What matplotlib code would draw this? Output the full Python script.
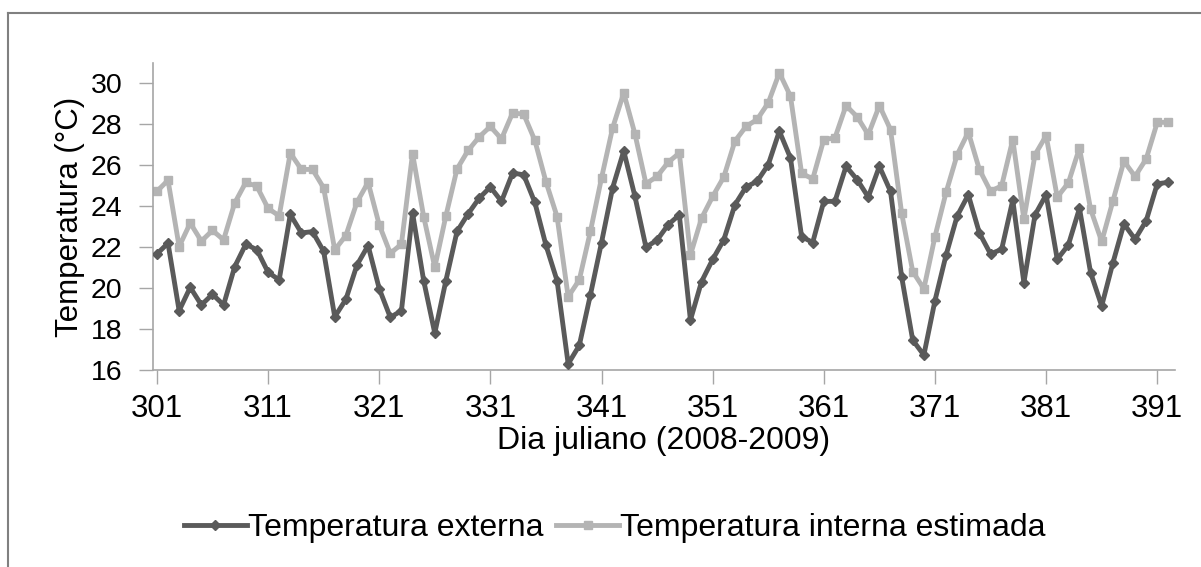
import numpy as np
from matplotlib import pyplot as plt
from matplotlib.lines import Line2D

plt.rcParams['font.family'] = ['Liberation Sans', 'DejaVu Sans']

# dia juliano
dias = np.arange(301, 393)

# temperatura externa
t_externa = [
    21.67, 22.20, 18.90, 20.04, 19.18, 19.70, 19.18, 21.05, 22.15, 21.87,
    20.78, 20.40, 23.60, 22.70, 22.76, 21.80, 18.60, 19.45, 21.13, 22.08,
    19.98, 18.57, 18.90, 23.67, 20.37, 17.80, 20.37, 22.77, 23.63, 24.40,
    24.94, 24.24, 25.62, 25.54, 24.19, 22.10, 20.37, 16.30, 17.20, 19.67,
    22.23, 24.90, 26.70, 24.50, 22.00, 22.35, 23.10, 23.58, 18.44, 20.32,
    21.40, 22.36, 24.07, 24.94, 25.22, 26.03, 27.67, 26.36, 22.52, 22.23,
    24.24, 24.24, 25.95, 25.30, 24.45, 25.95, 24.73, 20.56, 17.46, 16.73,
    19.39, 21.62, 23.53, 24.56, 22.69, 21.67, 21.90, 24.30, 20.27, 23.58,
    24.56, 21.41, 22.11, 23.90, 20.76, 19.13, 21.22, 23.14, 22.39, 23.29,
    25.10, 25.17,
]

# temperatura interna estimada
t_interna = [
    24.73, 25.27, 22.03, 23.18, 22.30, 22.82, 22.36, 24.16, 25.17, 24.97,
    23.90, 23.53, 26.60, 25.80, 25.80, 24.90, 21.87, 22.57, 24.20, 25.17,
    23.10, 21.70, 22.15, 26.57, 23.50, 21.02, 23.53, 25.82, 26.73, 27.39,
    27.90, 27.29, 28.56, 28.50, 27.22, 25.20, 23.50, 19.58, 20.40, 22.77,
    25.38, 27.83, 29.54, 27.55, 25.10, 25.46, 26.15, 26.60, 21.62, 23.42,
    24.48, 25.43, 27.18, 27.90, 28.24, 29.05, 30.52, 29.38, 25.62, 25.33,
    27.26, 27.34, 28.92, 28.37, 27.50, 28.92, 27.75, 23.67, 20.81, 19.97,
    22.52, 24.68, 26.52, 27.62, 25.79, 24.73, 25.00, 27.26, 23.37, 26.52,
    27.45, 24.45, 25.14, 26.85, 23.86, 22.28, 24.24, 26.20, 25.46, 26.31,
    28.10, 28.10,
]

fig = plt.figure(figsize=(12.01, 5.67), dpi=100)
ax = fig.add_axes([0.1274, 0.3474, 0.851, 0.5415])

ax.plot(dias, t_externa, color='#5a5a5a', lw=3.5, marker='D', ms=5.5,
        label='Temperatura externa', zorder=3)
ax.plot(dias, t_interna, color='#b4b4b4', lw=3.5, marker='s', ms=6,
        label='Temperatura interna estimada', zorder=2)

ax.set_xlim(300.65, 392.6)
ax.set_ylim(16, 31)
ax.set_xticks(np.arange(301, 392, 10))
ax.set_yticks(np.arange(16, 31, 2))

for s in ['top', 'right']:
    ax.spines[s].set_visible(False)
for s in ['left', 'bottom']:
    ax.spines[s].set_color('#a6a6a6')
    ax.spines[s].set_linewidth(1.2)

ax.tick_params(axis='x', direction='out', length=10, width=1, color='#a6a6a6',
               labelsize=22.5, pad=7)
ax.tick_params(axis='y', direction='out', length=10, width=1, color='#a6a6a6',
               labelsize=20.5, pad=12)

ax.set_xlabel('Dia juliano (2008-2009)', fontsize=23, labelpad=2)
ax.set_ylabel('Temperatura (\u00b0C)', fontsize=22.5, labelpad=4)

fig.legend(loc='center', bbox_to_anchor=(615 / 1201, 1 - 528 / 567), ncol=2,
           frameon=False, fontsize=23, handlelength=1.95, handletextpad=0.05,
           columnspacing=0.4)

# borda do grafico
fig.add_artist(Line2D([8 / 1201, 1], [1 - 13 / 567, 1 - 13 / 567],
                      transform=fig.transFigure, color='#808080', lw=1.5))
fig.add_artist(Line2D([8 / 1201, 8 / 1201], [0, 1 - 13 / 567],
                      transform=fig.transFigure, color='#808080', lw=1.5))

fig.savefig('out.png', dpi=100)
